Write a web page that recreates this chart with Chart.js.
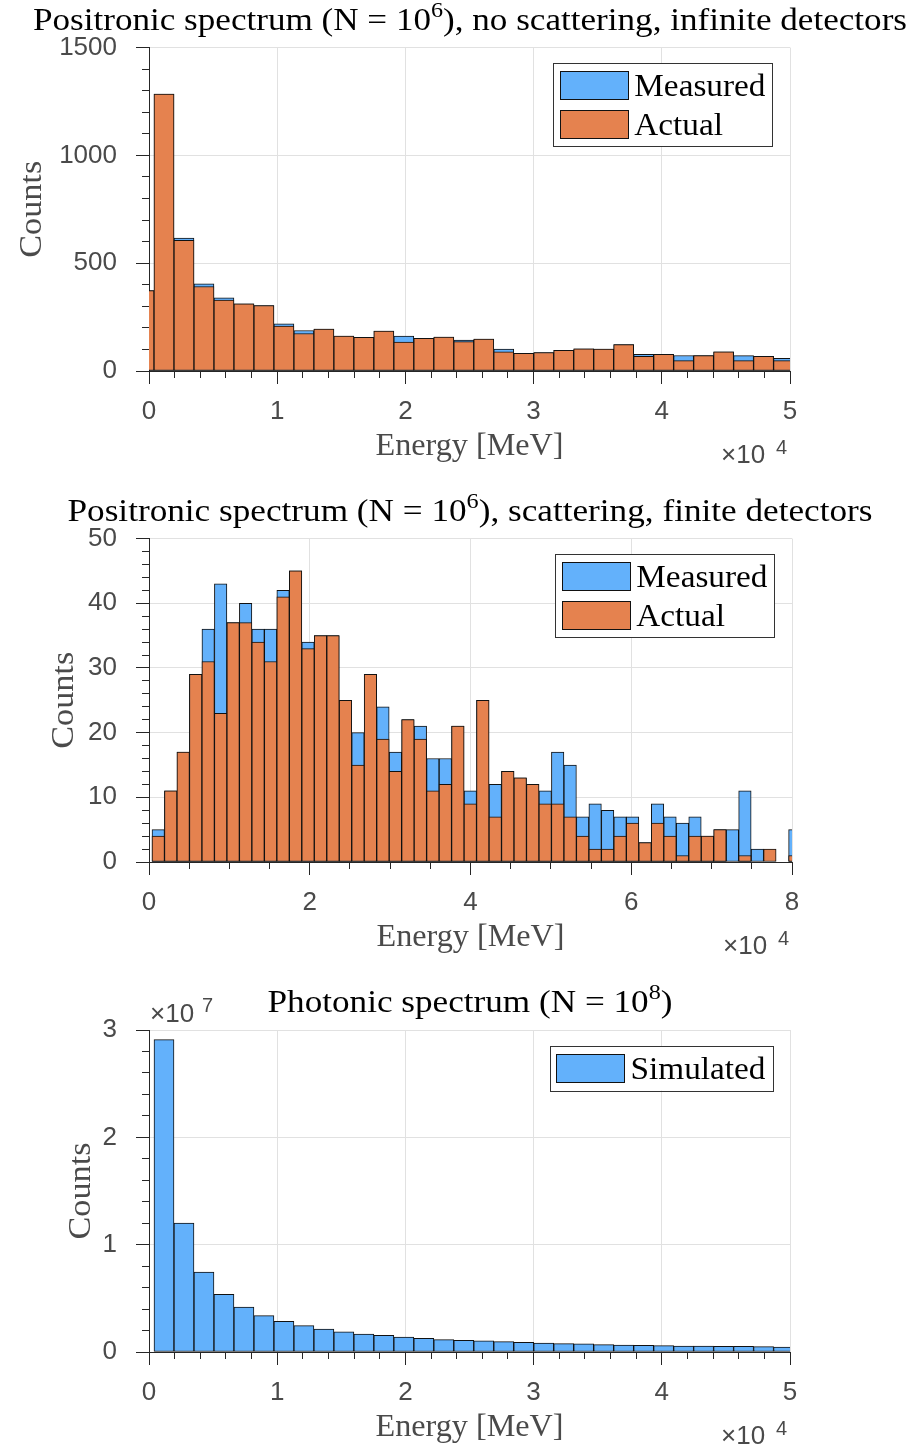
<!DOCTYPE html>
<html>
<head>
<meta charset="utf-8">
<script src="https://cdn.jsdelivr.net/npm/chart.js@4.4.1/dist/chart.umd.min.js"></script>
<style>
html, body { margin: 0; padding: 0; background: #ffffff; }
#wrap { position: relative; width: 915px; height: 1447px; overflow: hidden; background: #ffffff; }
#wrap canvas { position: absolute; left: 0; }
</style>
</head>
<body>
<div id="wrap">
  <canvas id="c1" width="915" height="491" style="top:0px"></canvas>
  <canvas id="c2" width="915" height="491" style="top:491px"></canvas>
  <canvas id="c3" width="915" height="466" style="top:981px"></canvas>
</div>
<script>
// ---------------- DATA ----------------
// Panel 1: positronic spectrum, no scattering, infinite detectors
const title1 = [['Positronic spectrum (N = 10', false], ['6', true], ['), no scattering, infinite detectors', false]];
const firstEdge1 = 390;      // MeV, first bin edge inside the axis
const binWidth1 = 1559;      // MeV
const measured1 = [373, 1284, 616, 404, 339, 311, 304, 219, 188, 194, 162, 156, 185, 162, 151, 157, 143, 148, 102, 82, 86, 96, 103, 102, 122, 77, 77, 72, 71, 89, 71, 68, 59];
const actual1   = [373, 1284, 606, 392, 329, 311, 304, 208, 174, 194, 162, 156, 185, 134, 151, 157, 136, 148, 89, 82, 86, 96, 103, 102, 122, 68, 77, 48, 71, 89, 48, 68, 48];
const xTickLabels1 = ['0', '1', '2', '3', '4', '5'];
const yTickLabels1 = ['0', '500', '1000', '1500'];

// Panel 2: positronic spectrum, scattering, finite detectors
const title2 = [['Positronic spectrum (N = 10', false], ['6', true], ['), scattering, finite detectors', false]];
const firstEdge2 = 374;
const binWidth2 = 1553;
const measured2 = [0, 5, 11, 17, 29, 36, 43, 37, 40, 36, 36, 42, 45, 34, 35, 35, 25, 20, 29, 24, 17, 22, 21, 16, 16, 21, 11, 25, 12, 14, 13, 12, 11, 17, 15, 7, 9, 8, 7, 7, 3, 9, 7, 6, 7, 4, 5, 5, 11, 2, 0, 0, 5];
const actual2   = [0, 4, 11, 17, 29, 31, 23, 37, 37, 34, 31, 41, 45, 33, 35, 35, 25, 15, 29, 19, 14, 22, 19, 11, 12, 21, 9, 25, 7, 14, 13, 12, 9, 9, 7, 4, 2, 2, 4, 6, 3, 6, 4, 1, 4, 4, 5, 0, 1, 0, 2, 0, 1];
const xTickLabels2 = ['0', '2', '4', '6', '8'];
const yTickLabels2 = ['0', '10', '20', '30', '40', '50'];

// Panel 3: photonic spectrum
const title3 = [['Photonic spectrum (N = 10', false], ['8', true], [')', false]];
const firstEdge3 = 390;
const binWidth3 = 1559;
const simulated3 = [0, 29100000, 12020000, 7450000, 5370000, 4190000, 3390000, 2860000, 2450000, 2140000, 1890000, 1680000, 1550000, 1400000, 1270000, 1150000, 1080000, 1040000, 960000, 900000, 840000, 780000, 750000, 680000, 650000, 630000, 590000, 560000, 550000, 530000, 520000, 500000, 470000];
const xTickLabels3 = ['0', '1', '2', '3', '4', '5'];
const yTickLabels3 = ['0', '1', '2', '3'];

const seriesNames = ['Measured', 'Actual', 'Simulated'];
const xAxisLabel = 'Energy [MeV]';
const yAxisLabel = 'Counts';

// ---------------- STYLE ----------------
const SANS = '"Liberation Sans", Arial, Helvetica, sans-serif';
const SERIF = '"Liberation Serif", "Times New Roman", serif';
const BLUE = '#63b1fb';
const ORANGE = '#e5824f';
const AXIS = '#262626';
const GRID = '#e1e1e1';
const LABEL_GRAY = '#4a4a4a';

function centersOf(values, firstEdge, width) {
  return values.map((_, i) => firstEdge + (i - 0.5) * width);
}

function barDataset(label, values, centers, color, order) {
  return {
    label: label,
    data: values.map((v, i) => ({ x: centers[i], y: v })),
    backgroundColor: color,
    borderColor: '#111111',
    borderWidth: 1,
    borderSkipped: false,
    barPercentage: 1,
    categoryPercentage: 1,
    grouped: false,
    order: order,
    clip: { left: 0, right: 0, top: false, bottom: 0 }
  };
}

function alignPx(p) { return Math.round(p - 0.5) + 0.5; }

function drawRich(ctx, parts, cx, baseline, size, targetW, color, family, align) {
  ctx.save();
  const widths = parts.map(([t, sup]) => {
    ctx.font = (sup ? Math.round(size * 0.7) : size) + 'px ' + family;
    return ctx.measureText(t).width;
  });
  const natural = widths.reduce((a, b) => a + b, 0);
  const sx = targetW ? targetW / natural : 1;
  const total = natural * sx;
  let startX = cx - total / 2;
  if (align === 'left') startX = cx;
  ctx.translate(startX, baseline);
  ctx.scale(sx, 1);
  ctx.fillStyle = color;
  ctx.textBaseline = 'alphabetic';
  ctx.textAlign = 'left';
  let x = 0;
  parts.forEach(([t, sup], i) => {
    ctx.font = (sup ? Math.round(size * 0.7) : size) + 'px ' + family;
    ctx.fillText(t, x, sup ? -size * 0.4 : 0);
    x += widths[i];
  });
  ctx.restore();
}

function isMult(v, step) {
  const r = v / step;
  return Math.abs(r - Math.round(r)) < 1e-6;
}

const deco = {
  id: 'deco',
  afterDraw(chart, args, o) {
    const ctx = chart.ctx;
    const a = chart.chartArea;
    const xs = chart.scales.x, ys = chart.scales.y;
    ctx.save();
    // tick marks (major + minor), outward
    ctx.strokeStyle = AXIS;
    ctx.lineWidth = 1;
    ctx.beginPath();
    for (let k = 0; ; k++) {
      const v = xs.min + k * o.xMinor;
      if (v > xs.max + 1e-6) break;
      const px = alignPx(xs.getPixelForValue(v));
      const len = isMult(v, o.xMajor) ? 13 : 7;
      ctx.moveTo(px, a.bottom);
      ctx.lineTo(px, a.bottom + len);
    }
    for (let k = 0; ; k++) {
      const v = ys.min + k * o.yMinor;
      if (v > ys.max + 1e-6) break;
      const py = alignPx(ys.getPixelForValue(v));
      const len = isMult(v, o.yMajor) ? 13 : 7;
      ctx.moveTo(a.left - len, py);
      ctx.lineTo(a.left, py);
    }
    ctx.stroke();

    // title
    drawRich(ctx, o.title, o.titleX, a.top - 18, 32, o.titleW, '#000000', SERIF);

    // x label
    drawRich(ctx, [[xAxisLabel, false]], (a.left + a.right) / 2, a.bottom + 84, 32, 188, LABEL_GRAY, SERIF);

    // y label (rotated)
    ctx.save();
    ctx.translate(o.yLabelX, (a.top + a.bottom) / 2);
    ctx.rotate(-Math.PI / 2);
    drawRich(ctx, [[yAxisLabel, false]], 0, 0, 32, 97, LABEL_GRAY, SERIF);
    ctx.restore();

    // x exponent (x10^4)
    ctx.fillStyle = LABEL_GRAY;
    ctx.textAlign = 'left';
    ctx.textBaseline = 'alphabetic';
    ctx.font = '26px ' + SANS;
    ctx.fillText('\u00d710', a.right - 69, a.bottom + 92);
    ctx.font = '20px ' + SANS;
    ctx.fillText(o.xExp, a.right - 14, a.bottom + 83);

    // y exponent
    if (o.yExp) {
      ctx.font = '26px ' + SANS;
      ctx.fillText('\u00d710', a.left + 1, a.top - 8);
      ctx.font = '20px ' + SANS;
      ctx.fillText(o.yExp, a.left + 53, a.top - 18);
    }

    // legend
    const items = o.legend.map(i => chart.data.datasets[i]);
    ctx.font = '32px ' + SERIF;
    const tsx = 1.04;
    const textW = Math.max(...items.map(d => ctx.measureText(d.label).width)) * tsx;
    const boxRight = a.right - 17;
    const boxW = 6.5 + 68 + 6 + textW + 7.5;
    const boxLeft = boxRight - boxW;
    const boxTop = a.top + 16;
    const boxH = 8.3 * 2 + 28 + 38.3 * (items.length - 1);
    ctx.fillStyle = '#ffffff';
    ctx.fillRect(boxLeft, boxTop, boxW, boxH);
    ctx.strokeStyle = '#333333';
    ctx.lineWidth = 1;
    ctx.strokeRect(alignPx(boxLeft), alignPx(boxTop), Math.round(boxW), Math.round(boxH));
    items.forEach((d, i) => {
      const sy = boxTop + 8.3 + 38.3 * i;
      const sxp = boxLeft + 6.5;
      ctx.fillStyle = d.backgroundColor;
      ctx.fillRect(sxp, sy, 68, 28);
      ctx.strokeStyle = '#111111';
      ctx.strokeRect(alignPx(sxp), alignPx(sy), 68, 28);
      ctx.save();
      ctx.translate(sxp + 68 + 6, sy + 14 + 10.5);
      ctx.scale(tsx, 1);
      ctx.fillStyle = '#000000';
      ctx.font = '32px ' + SERIF;
      ctx.textBaseline = 'alphabetic';
      ctx.textAlign = 'left';
      ctx.fillText(d.label, 0, 0);
      ctx.restore();
    });
    ctx.restore();
  }
};

function makeChart(id, cfg) {
  const tickFont = { family: SANS, size: 26 };
  return new Chart(document.getElementById(id), {
    type: 'bar',
    data: { datasets: cfg.datasets },
    plugins: [deco],
    options: {
      responsive: false,
      animation: false,
      devicePixelRatio: 1,
      events: [],
      layout: { padding: { left: 0, right: cfg.padRight, top: cfg.padTop, bottom: cfg.padBottom } },
      scales: {
        x: {
          type: 'linear',
          offset: false,
          min: 0, max: cfg.xMax,
          afterFit: s => { s.height = 60; },
          ticks: {
            stepSize: cfg.xStep,
            autoSkip: false,
            maxRotation: 0,
            padding: 25,
            color: LABEL_GRAY,
            font: tickFont,
            callback: (v, i) => cfg.xLabels[i]
          },
          grid: { color: GRID, lineWidth: 1, drawTicks: false, offset: false },
          border: { display: true, color: AXIS, width: 1 }
        },
        y: {
          type: 'linear',
          min: 0, max: cfg.yMax,
          afterFit: s => { s.width = 149; },
          ticks: {
            stepSize: cfg.yStep,
            autoSkip: false,
            padding: 32,
            color: LABEL_GRAY,
            font: tickFont,
            callback: (v, i) => cfg.yLabels[i]
          },
          grid: { color: GRID, lineWidth: 1, drawTicks: false },
          border: { display: true, color: AXIS, width: 1 }
        }
      },
      plugins: {
        legend: { display: false },
        title: { display: false },
        tooltip: { enabled: false },
        deco: cfg.deco
      }
    }
  });
}

const centers1 = centersOf(measured1, firstEdge1, binWidth1);
const centers2 = centersOf(measured2, firstEdge2, binWidth2);
const centers3 = centersOf(simulated3, firstEdge3, binWidth3);

makeChart('c1', {
  datasets: [
    barDataset(seriesNames[0], measured1, centers1, BLUE, 2),
    barDataset(seriesNames[1], actual1, centers1, ORANGE, 1)
  ],
  xMax: 50000, xStep: 10000, yMax: 1500, yStep: 500,
  xLabels: xTickLabels1, yLabels: yTickLabels1,
  padTop: 47, padRight: 125, padBottom: 60,
  deco: { title: title1, titleX: 470, titleW: 874, yLabelX: 41, xMinor: 2000, xMajor: 10000, yMinor: 100, yMajor: 500, xExp: '4', yExp: null, legend: [0, 1] }
});

makeChart('c2', {
  datasets: [
    barDataset(seriesNames[0], measured2, centers2, BLUE, 2),
    barDataset(seriesNames[1], actual2, centers2, ORANGE, 1)
  ],
  xMax: 80000, xStep: 20000, yMax: 50, yStep: 10,
  xLabels: xTickLabels2, yLabels: yTickLabels2,
  padTop: 47, padRight: 123, padBottom: 60,
  deco: { title: title2, titleX: 470, titleW: 805, yLabelX: 73, xMinor: 5000, xMajor: 20000, yMinor: 2, yMajor: 10, xExp: '4', yExp: null, legend: [0, 1] }
});

makeChart('c3', {
  datasets: [
    barDataset(seriesNames[2], simulated3, centers3, BLUE, 1)
  ],
  xMax: 50000, xStep: 10000, yMax: 30000000, yStep: 10000000,
  xLabels: xTickLabels3, yLabels: yTickLabels3,
  padTop: 49, padRight: 125, padBottom: 35,
  deco: { title: title3, titleX: 470, titleW: 405, yLabelX: 90, xMinor: 2000, xMajor: 10000, yMinor: 2000000, yMajor: 10000000, xExp: '4', yExp: '7', legend: [0] }
});
</script>
</body>
</html>
